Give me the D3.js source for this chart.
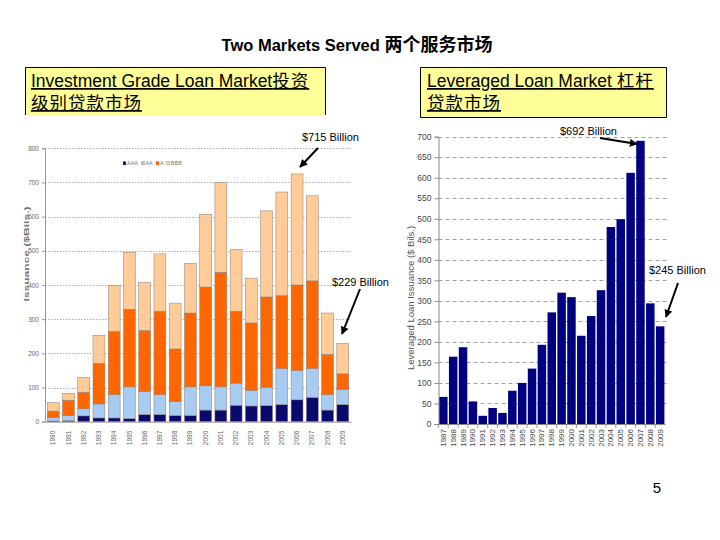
<!DOCTYPE html>
<html><head><meta charset="utf-8">
<script src="https://cdn.jsdelivr.net/npm/d3@7"></script>
<style>
html,body{margin:0;padding:0;background:#fff;}
svg{display:block;font-family:"Liberation Sans",Arial,sans-serif;}
</style></head>
<body><svg id="c" width="720" height="540"></svg>
<script>
// ---------- data ----------
const yearsIG = ["1990","1991","1992","1993","1994","1995","1996","1997","1998","1999","2000","2001","2002","2003","2004","2005","2006","2007","2008","2009"];
const seriesIG = ["AAA","AA","A","BBB"];
const igAAA = [2,3,17,11,11,9,21,21,18,18,34,34,48,46,47,50,64,71,34,50];
const igAA  = [11,15,21,41,68,93,68,58,41,84,71,68,65,46,54,106,86,85,45,45];
const igA   = [18,45,48,119,185,227,178,244,154,216,289,335,210,197,264,213,250,256,118,45];
const igBBB = [25,20,44,82,135,167,140,168,134,145,213,263,181,131,252,303,325,249,121,89];
const igTicks = [0,100,200,300,400,500,600,700,800];

const yearsLev = ["1987","1988","1989","1990","1991","1992","1993","1994","1995","1996","1997","1998","1999","2000","2001","2002","2003","2004","2005","2006","2007","2008","2009"];
const levValues = [66,164,187,55,20,39,27,81,100,135,193,272,320,309,215,263,326,480,499,612,690,294,238];
const levTicks = [0,50,100,150,200,250,300,350,400,450,500,550,600,650,700];

const titleText = ["Two Markets Served ", "两个服务市场"];
const annotations = ["$715 Billion","$229 Billion","$692 Billion","$245 Billion"];

// ---------- drawing ----------
const svg = d3.select("#c");
const CJK = "'Noto Sans CJK SC',sans-serif";
const colors = {AAA:"#0a0a6e", AA:"#a8cbf2", A:"#ff6600", BBB:"#ffcc99"};

const defs = svg.append("defs");
defs.append("marker").attr("id","ah").attr("viewBox","0 0 10 10").attr("refX",9).attr("refY",5)
  .attr("markerWidth",4).attr("markerHeight",4).attr("orient","auto")
  .append("path").attr("d","M0,0L10,5L0,10z").attr("fill","#000");

// title
const t = svg.append("text").attr("x",357).attr("y",51).attr("text-anchor","middle")
  .attr("font-weight","bold").attr("font-size",16.5);
t.append("tspan").text(titleText[0]);
t.append("tspan").attr("font-family",CJK).attr("font-size",18).text(titleText[1]);

// boxes
function box(x0,x1,y0,y1,bottom){
  svg.append("rect").attr("x",x0).attr("y",y0).attr("width",x1-x0).attr("height",y1-y0).attr("fill","#ffff99");
  const p = bottom ? `M${x0},${y0}H${x1}V${y1}H${x0}Z` : `M${x0},${y1}V${y0}H${x1}V${y1}`;
  svg.append("path").attr("d",p).attr("fill","none").attr("stroke","#000").attr("stroke-width",1);
}
box(25.5,325.5,67.5,115,false);
box(420.5,666.5,67.5,117.5,true);

function boxText(x,y,latin,cjk){
  const tx = svg.append("text").attr("x",x).attr("y",y).attr("font-size",17.5)
    .style("text-decoration","underline");
  if(latin) tx.append("tspan").text(latin);
  if(cjk) tx.append("tspan").attr("font-family",CJK).attr("font-size",17.5).attr("letter-spacing",1).text(cjk);
}
boxText(31,87,"Investment Grade Loan Market","投资");
boxText(31,109,null,"级别贷款市场");
boxText(427,87,"Leveraged Loan Market ","杠杆");
boxText(427,109,null,"贷款市场");

// ---------- left chart ----------
const gL = svg.append("g");
const xL = d3.scaleBand().domain(yearsIG).range([45,351]).paddingInner(0.22).paddingOuter(0.15);
const yL = d3.scaleLinear().domain([0,800]).range([421.7,148.3]);

gL.selectAll("line.grid").data(igTicks.filter(d=>d>0)).join("line")
  .attr("x1",45).attr("x2",351).attr("y1",d=>Math.round(yL(d))+0.5).attr("y2",d=>Math.round(yL(d))+0.5)
  .attr("stroke","#9a9a9a").attr("stroke-width",0.8).attr("stroke-dasharray","1.5,1.5");

const tableIG = yearsIG.map((y,i)=>({year:y,AAA:igAAA[i],AA:igAA[i],A:igA[i],BBB:igBBB[i]}));
const stack = d3.stack().keys(seriesIG)(tableIG);
gL.selectAll("g.s").data(stack).join("g").attr("fill",d=>colors[d.key])
  .selectAll("rect").data(d=>d).join("rect")
  .attr("x",d=>xL(d.data.year)).attr("width",xL.bandwidth())
  .attr("y",d=>yL(d[1])).attr("height",d=>yL(d[0])-yL(d[1]))
  .attr("stroke","#8a7f78").attr("stroke-width",0.5);

const axL = gL.append("g").attr("transform","translate(45,0)")
  .call(d3.axisLeft(yL).tickValues(igTicks).tickSize(3).tickFormat(d3.format("d")));
axL.select(".domain").attr("stroke","#999");
axL.selectAll(".tick line").attr("stroke","#999");
axL.selectAll("text").attr("font-size",6.5).attr("fill","#666").attr("font-family","'Liberation Sans Narrow','Liberation Sans',sans-serif");

const axLb = gL.append("g").attr("transform","translate(0,421.7)")
  .call(d3.axisBottom(xL).tickSize(0));
axLb.select(".domain").attr("stroke","#999");
axLb.selectAll(".tick text").attr("font-size",6.5).attr("fill","#666")
  .attr("transform","translate(0,9) rotate(-90)").attr("text-anchor","end").attr("x",0).attr("y",0).attr("dy","0.32em");

gL.append("text").attr("transform","translate(29,254) rotate(-90)").attr("text-anchor","middle")
  .attr("font-size",7.5).attr("font-weight","bold").attr("fill","#777")
  .attr("textLength",95).attr("lengthAdjust","spacingAndGlyphs").text("Issuance ($Bils.)");

// legend
const lg = gL.append("g").attr("transform","translate(123,164)");
let lx = 0;
seriesIG.forEach(k=>{
  lg.append("rect").attr("x",lx).attr("y",-2.5).attr("width",3).attr("height",3.5).attr("fill",colors[k]).attr("stroke","#888").attr("stroke-width",0.3);
  const tw = k.length*3.8+2;
  lg.append("text").attr("x",lx+4).attr("y",1.3).attr("font-size",5.5).attr("fill","#777").text(k);
  lx += 5 + tw;
});

// ---------- right chart ----------
const gR = svg.append("g");
const xR = d3.scaleBand().domain(yearsLev).range([438.5,665]).paddingInner(0.14).paddingOuter(0.06);
const yR = d3.scaleLinear().domain([0,700]).range([424,136.7]);

gR.selectAll("line.grid").data(levTicks.filter(d=>d>0)).join("line")
  .attr("x1",438.5).attr("x2",667).attr("y1",d=>Math.round(yR(d))+0.5).attr("y2",d=>Math.round(yR(d))+0.5)
  .attr("stroke","#8a8a8a").attr("stroke-width",0.8).attr("stroke-dasharray","4,3");

gR.selectAll("rect.bar").data(levValues).join("rect")
  .attr("x",(d,i)=>xR(yearsLev[i])).attr("width",xR.bandwidth())
  .attr("y",d=>yR(d)).attr("height",d=>yR(0)-yR(d)).attr("fill","#000080");

const axR = gR.append("g").attr("transform","translate(438.5,0)")
  .call(d3.axisLeft(yR).tickValues(levTicks).tickSize(4).tickFormat(d3.format("d")));
axR.select(".domain").attr("stroke","#888");
axR.selectAll(".tick line").attr("stroke","#888");
axR.selectAll("text").attr("font-size",8.5).attr("fill","#444").attr("font-family","'Liberation Sans Narrow','Liberation Sans',sans-serif");

const axRb = gR.append("g").attr("transform","translate(0,424)")
  .call(d3.axisBottom(xR).tickSize(0));
axRb.select(".domain").attr("stroke","#888");
axRb.selectAll(".tick text").attr("font-size",8).attr("fill","#444")
  .attr("font-family","'Liberation Sans Narrow','Liberation Sans',sans-serif")
  .attr("transform","translate(0,5) rotate(-90)").attr("text-anchor","end").attr("x",0).attr("y",0).attr("dy","0.32em");
gR.selectAll("line.sep").data(yearsLev).join("line")
  .attr("x1",d=>xR(d)-xR.step()*xR.paddingInner()/2).attr("x2",d=>xR(d)-xR.step()*xR.paddingInner()/2)
  .attr("y1",424).attr("y2",428).attr("stroke","#888").attr("stroke-width",0.8);

gR.append("text").attr("transform","translate(414,298) rotate(-90)").attr("text-anchor","middle")
  .attr("font-size",9.5).attr("fill","#555").text("Leveraged Loan Issuance ($ Bils.)");

// ---------- annotations ----------
const ann = [
  {t:annotations[0], x:302, y:141, a:[318,148,300,167]},
  {t:annotations[1], x:332, y:286, a:[360,289,342,334]},
  {t:annotations[2], x:560, y:135, a:[600,138,637,144]},
  {t:annotations[3], x:649, y:274, a:[678,283,666,317]}
];
ann.forEach(d=>{
  svg.append("text").attr("x",d.x).attr("y",d.y).attr("font-size",11).text(d.t);
  svg.append("line").attr("x1",d.a[0]).attr("y1",d.a[1]).attr("x2",d.a[2]).attr("y2",d.a[3])
    .attr("stroke","#000").attr("stroke-width",2).attr("marker-end","url(#ah)");
});

svg.append("text").attr("x",657).attr("y",493).attr("text-anchor","middle").attr("font-size",15).text("5");
</script></body></html>
